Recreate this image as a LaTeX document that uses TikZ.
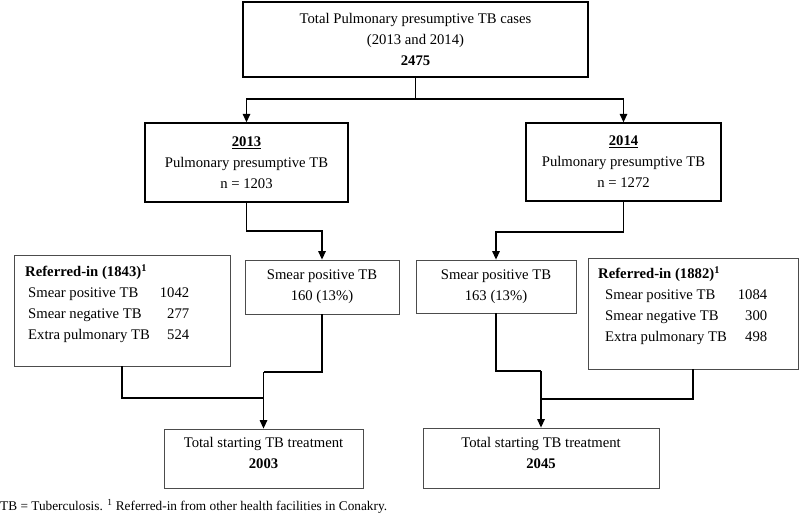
\documentclass[tikz,border=0pt]{standalone}
\usepackage{fontspec}
\setmainfont{Liberation Serif}
\usetikzlibrary{arrows.meta}
\begin{document}
\begin{tikzpicture}[x=1pt,y=-1pt,
  every node/.style={font=\fontsize{14.7}{21}\selectfont, align=center},
  thickbox/.style={draw=black, line width=1.3pt, inner sep=0pt},
  thinbox/.style={draw=black!70, line width=0.8pt, inner sep=0pt},
  conn/.style={line width=1.3pt, draw=black},
  arr/.style={conn, -{Triangle[length=8.5pt,width=7.5pt]}}]
\useasboundingbox (0,0) rectangle (800,526);

% boxes
\node[thickbox, minimum width=345pt, minimum height=75pt] (top) at (415.5,39.5)
  {Total Pulmonary presumptive TB cases\\(2013 and 2014)\\\textbf{2475}};
\node[thickbox, minimum width=203pt, minimum height=79pt] (y13) at (246.5,162.5)
  {\underline{\textbf{2013}}\\Pulmonary presumptive TB\\n = 1203};
\node[thickbox, minimum width=195pt, minimum height=78pt] (y14) at (623.5,162)
  {\underline{\textbf{2014}}\\Pulmonary presumptive TB\\n = 1272};
\node[thinbox, minimum width=154pt, minimum height=54pt] (sp13) at (322,287)
  {Smear positive TB\\160 (13\%)};
\node[thinbox, minimum width=160pt, minimum height=53pt] (sp14) at (496,286.5)
  {Smear positive TB\\163 (13\%)};
\node[thinbox, minimum width=216pt, minimum height=111pt] (refL) at (122,310.5) {};
\node[thinbox, minimum width=210pt, minimum height=111pt] (refR) at (693,313.5) {};
\node[thinbox, minimum width=199pt, minimum height=59pt] (totL) at (263.5,458.5)
  {Total starting TB treatment\\\textbf{2003}\\[-10pt]\mbox{}};
\node[thinbox, minimum width=236pt, minimum height=60pt] (totR) at (541,458)
  {Total starting TB treatment\\\textbf{2045}\\[-10pt]\mbox{}};

% referred-in texts
\node[anchor=base west, inner sep=0pt, align=left] (refLt) at (25,277)
  {\begin{tabular}[t]{@{}l@{\hspace{10pt}}r@{}}
   \multicolumn{2}{@{}l@{}}{\textbf{Referred-in (1843)}\textsuperscript{\textbf{1}}}\\
   \hspace{3pt}Smear positive TB & 1042\\
   \hspace{3pt}Smear negative TB & 277\\
   \hspace{3pt}Extra pulmonary TB & 524
   \end{tabular}};
\node[anchor=base west, inner sep=0pt, align=left] (refRt) at (598,279)
  {\begin{tabular}[t]{@{}l@{\hspace{11pt}}r@{}}
   \multicolumn{2}{@{}l@{}}{\textbf{Referred-in (1882)}\textsuperscript{\textbf{1}}}\\
   \hspace{7pt}Smear positive TB & 1084\\
   \hspace{7pt}Smear negative TB & 300\\
   \hspace{7pt}Extra pulmonary TB & 498
   \end{tabular}};

% junction points
\coordinate (j0) at (415.5,99);
\coordinate (k13) at (322,231);
\coordinate (k14) at (496,232);
\coordinate (mL1) at (263.5,372);
\coordinate (mL2) at (263.5,398);
\coordinate (mR1) at (541,371);
\coordinate (mR2) at (541,399);

% connectors
\draw[conn] (top.south) -- (j0);
\draw[arr] (j0) -| (y13.north);
\draw[arr] (j0) -| (y14.north);
\draw[arr] (y13.south) |- (k13) -- (sp13.north);
\draw[arr] (y14.south) |- (k14) -- (sp14.north);
\draw[conn] (sp13.south) |- (mL1);
\draw[conn] (refL.south) |- (mL2);
\draw[arr] (mL1) -- (totL.north);
\draw[conn] (sp14.south) |- (mR1);
\draw[conn] (refR.south) |- (mR2);
\draw[arr] (mR1) -- (totR.north);

% footnote
\node[anchor=west, inner sep=0pt, font=\fontsize{13.3}{15}\selectfont] (fn) at (0,506)
  {TB = Tuberculosis. \textsuperscript{1} Referred-in from other health facilities in Conakry.};
\end{tikzpicture}
\end{document}
